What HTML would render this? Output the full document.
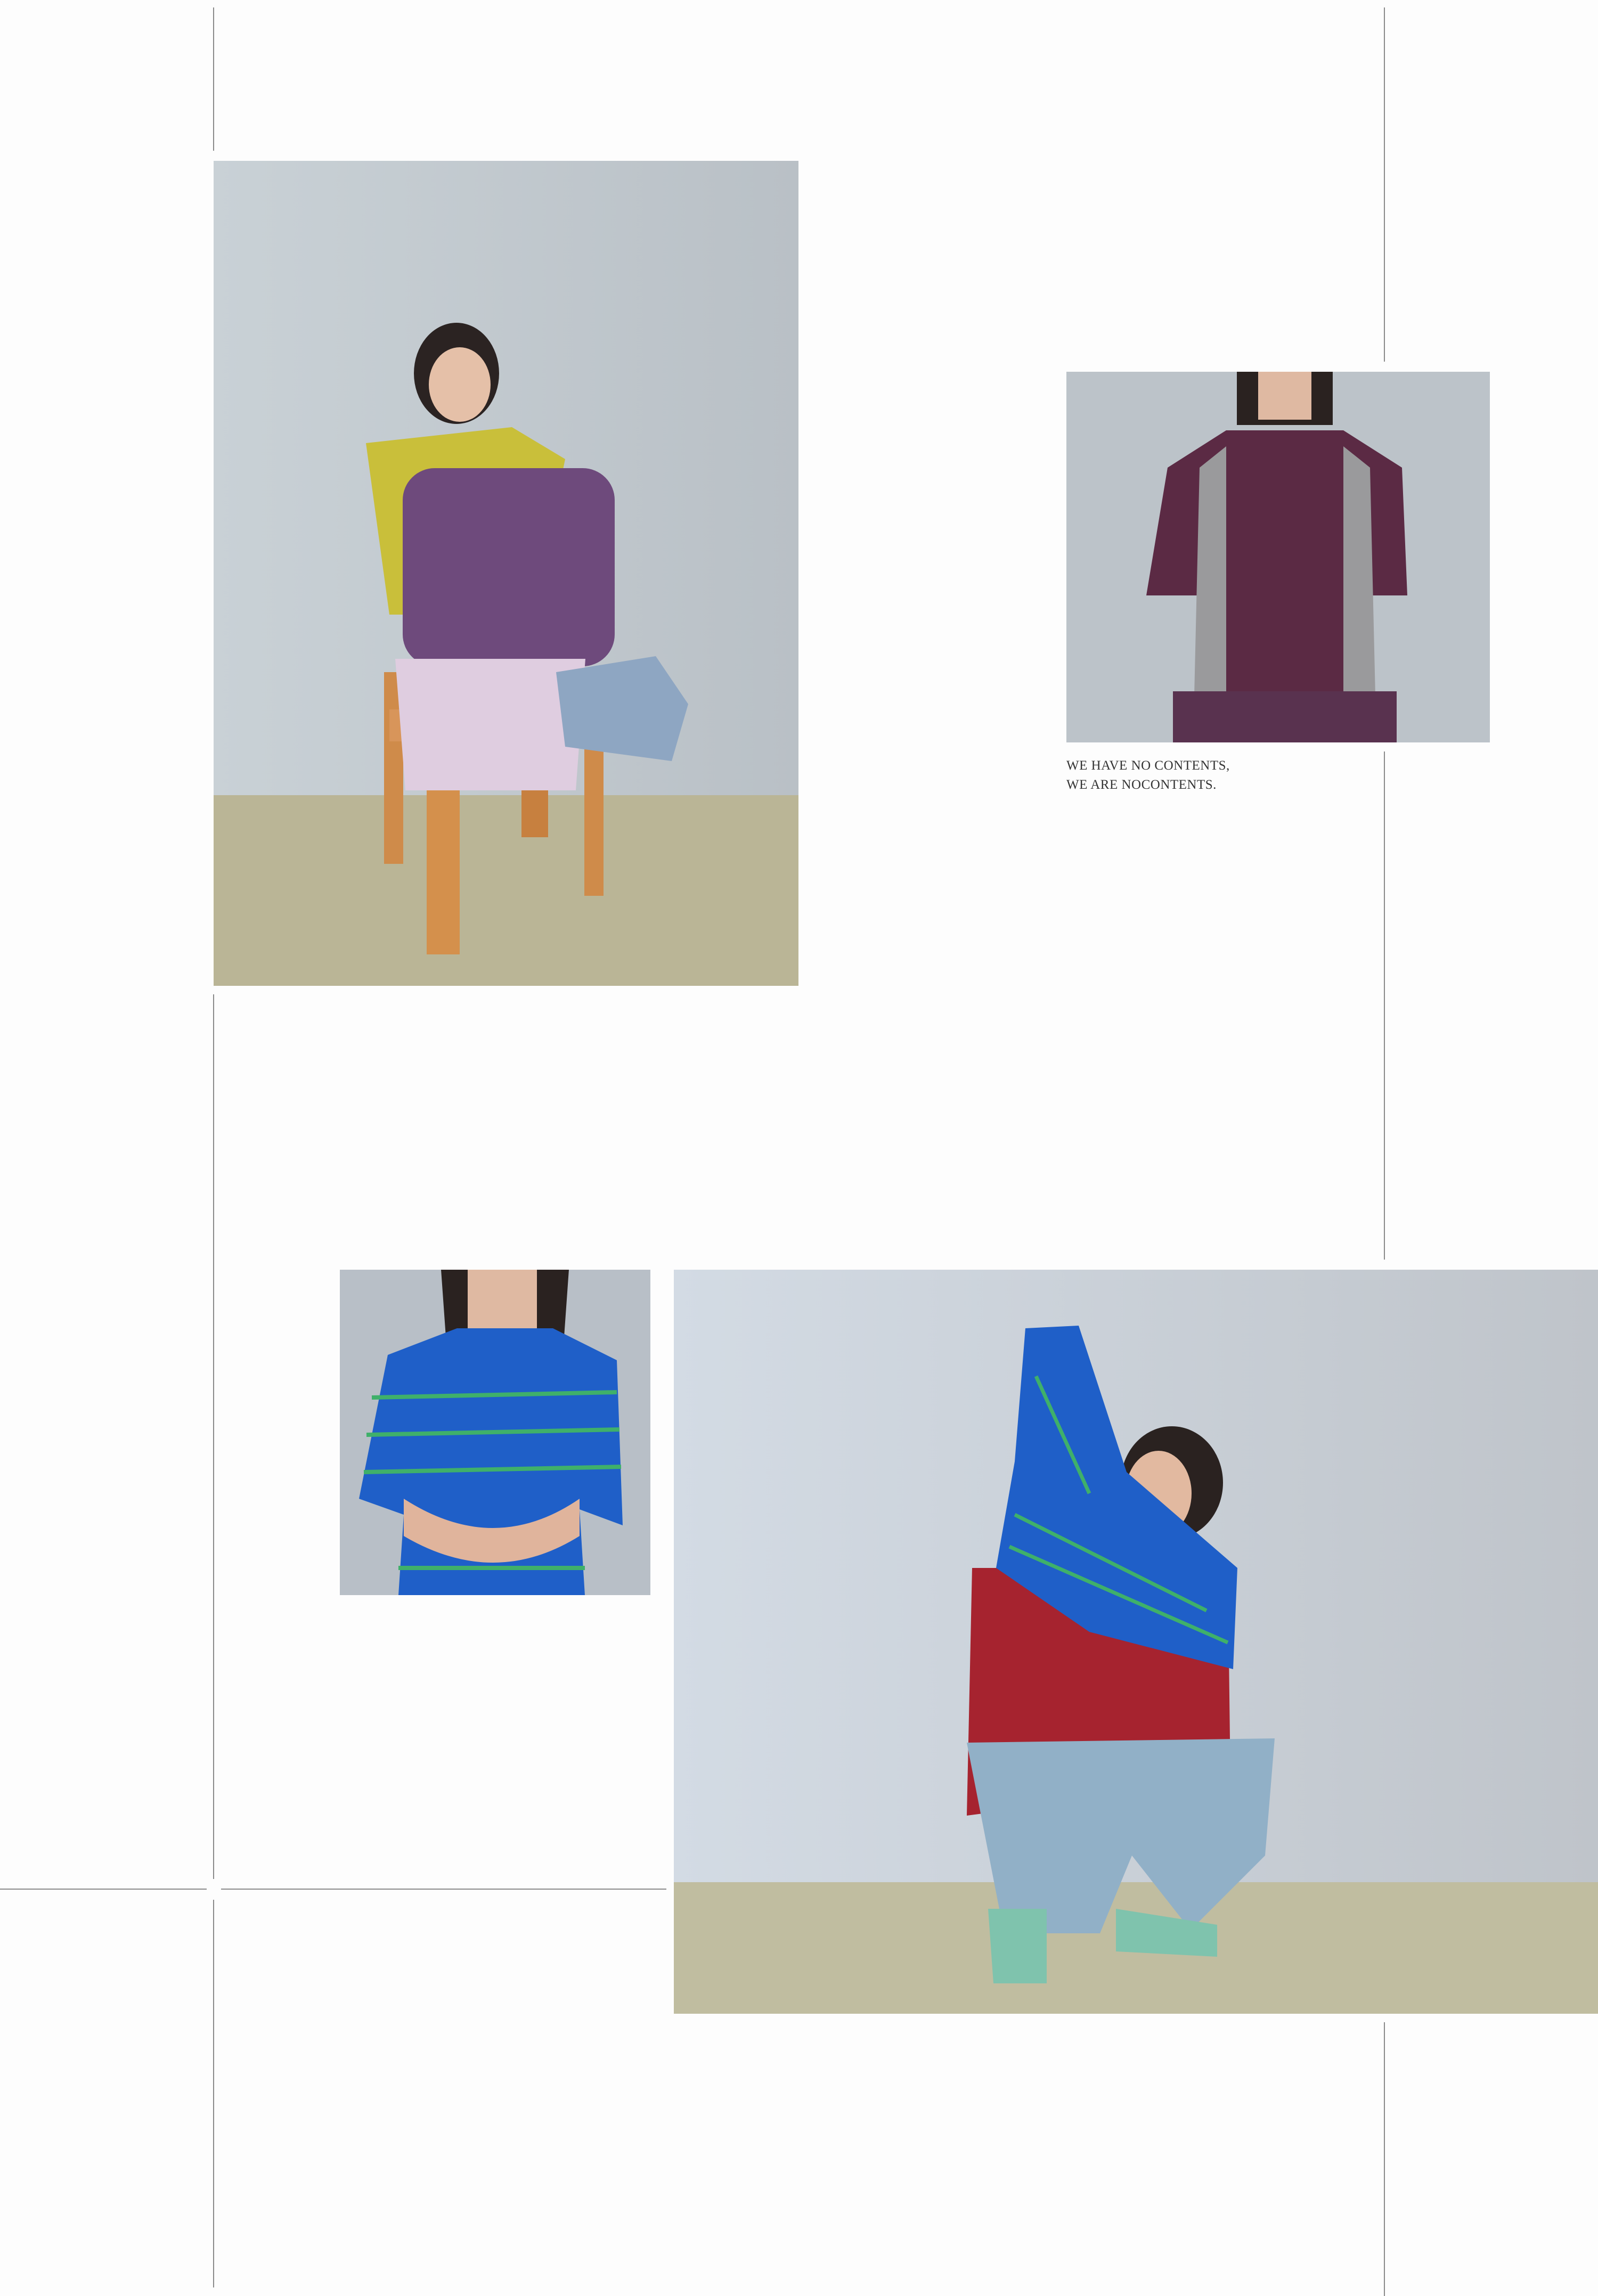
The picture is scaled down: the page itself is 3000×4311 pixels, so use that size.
<!DOCTYPE html>
<html><head><meta charset="utf-8"><style>
html,body{margin:0;padding:0;background:#fdfdfd;}
body{width:3000px;height:4311px;position:relative;overflow:hidden;}
.vl{position:absolute;width:2px;background:#8a8a8a;}
.hl{position:absolute;height:2px;background:#8a8a8a;}
.ph{position:absolute;}
.cap{position:absolute;left:2002px;top:1420px;font-family:"Liberation Serif",serif;font-size:25px;line-height:36px;color:#333;letter-spacing:0.5px;}
</style></head><body>
<div class="vl" style="left:400px;top:14px;height:269px"></div>
<div class="vl" style="left:400px;top:1867px;height:1661px"></div>
<div class="vl" style="left:400px;top:3567px;height:728px"></div>
<div class="vl" style="left:2598px;top:14px;height:665px"></div>
<div class="vl" style="left:2598px;top:1411px;height:954px"></div>
<div class="vl" style="left:2598px;top:3797px;height:514px"></div>
<div class="hl" style="left:0;top:3546px;width:388px"></div>
<div class="hl" style="left:415px;top:3546px;width:836px"></div>

<svg class="ph" style="left:401px;top:302px" width="1098" height="1549" viewBox="0 0 1098 1549">
<defs><linearGradient id="w1" x1="0" y1="0" x2="1" y2="0"><stop offset="0" stop-color="#c9d1d6"/><stop offset="1" stop-color="#b9c0c6"/></linearGradient></defs>
<rect width="1098" height="1191" fill="url(#w1)"/>
<rect y="1191" width="1098" height="358" fill="#bab596"/>
<rect x="320" y="960" width="36" height="360" fill="#cf8b4a"/>
<rect x="400" y="1060" width="62" height="430" fill="#d4904c"/>
<rect x="578" y="1130" width="50" height="140" fill="#c7803f"/>
<rect x="696" y="1050" width="36" height="330" fill="#cf8b4a"/>
<rect x="330" y="1030" width="380" height="60" fill="#d8955a"/>
<ellipse cx="456" cy="399" rx="80" ry="95" fill="#2b2322"/>
<ellipse cx="462" cy="420" rx="58" ry="70" fill="#e5c0a8"/>
<path d="M286 530 L560 500 L660 560 L600 852 L330 852 Z" fill="#c9bf3a"/>
<rect x="355" y="577" width="398" height="372" rx="60" fill="#6e4a7c"/>
<path d="M341 935 L698 935 L680 1182 L360 1182 Z" fill="#dfcde0"/>
<path d="M643 960 L830 930 L891 1020 L860 1127 L660 1100 Z" fill="#8ea6c2"/>
</svg>

<svg class="ph" style="left:2002px;top:698px" width="795" height="696" viewBox="0 0 795 696">
<rect width="795" height="696" fill="#bcc3c9"/>
<rect x="320" y="0" width="180" height="100" fill="#2a2220"/>
<rect x="360" y="0" width="100" height="90" fill="#dfb9a2"/>
<path d="M190 180 L300 110 L520 110 L630 180 L640 420 L560 420 L560 608 L260 608 L260 420 L150 420 Z" fill="#5b2a44"/>
<path d="M250 180 L300 140 L300 608 L240 608 Z" fill="#9a9a9c"/>
<path d="M570 180 L520 140 L520 608 L580 608 Z" fill="#9a9a9c"/>
<rect x="200" y="600" width="420" height="96" fill="#59324f"/>
</svg>
<div class="cap">WE HAVE NO CONTENTS,<br>WE ARE NOCONTENTS.</div>

<svg class="ph" style="left:638px;top:2384px" width="583" height="611" viewBox="0 0 583 611">
<rect width="583" height="611" fill="#b8bfc7"/>
<path d="M190 0 L430 0 L420 140 L200 140 Z" fill="#2a2220"/>
<rect x="240" y="0" width="130" height="110" fill="#dfb9a2"/>
<path d="M90 160 L220 110 L400 110 L520 170 L531 480 L450 450 L460 611 L110 611 L120 460 L36 430 Z" fill="#1f5fc8"/>
<g stroke="#3fb06a" stroke-width="8"><line x1="60" y1="240" x2="520" y2="230"/><line x1="50" y1="310" x2="525" y2="300"/><line x1="45" y1="380" x2="528" y2="370"/><line x1="110" y1="560" x2="460" y2="560"/></g>
<path d="M120 430 Q290 540 450 430 L450 500 Q290 600 120 500 Z" fill="#e0b49c"/>
</svg>

<svg class="ph" style="left:1265px;top:2384px" width="1735" height="1397" viewBox="0 0 1735 1397">
<defs><linearGradient id="w4" x1="0" y1="0" x2="1" y2="0"><stop offset="0" stop-color="#d3dbe4"/><stop offset="1" stop-color="#bfc4ca"/></linearGradient></defs>
<rect width="1735" height="1150" fill="url(#w4)"/>
<rect y="1150" width="1735" height="247" fill="#c0bda0"/>
<path d="M560 560 L1040 560 L1045 960 L550 1025 Z" fill="#a6232f"/>
<path d="M550 888 L1128 880 L1110 1100 L970 1240 L860 1100 L800 1246 L620 1246 Z" fill="#91b0c7"/>
<ellipse cx="935" cy="400" rx="96" ry="106" fill="#2a2220"/>
<ellipse cx="910" cy="420" rx="62" ry="80" fill="#e2b9a0"/>
<path d="M660 110 L760 105 L850 380 L1058 560 L1050 750 L780 680 L605 560 L640 360 Z" fill="#1f5fc8"/>
<g stroke="#3fb06a" stroke-width="7"><line x1="680" y1="200" x2="780" y2="420"/><line x1="640" y1="460" x2="1000" y2="640"/><line x1="630" y1="520" x2="1040" y2="700"/></g>
<path d="M590 1200 L700 1200 L700 1340 L600 1340 Z" fill="#7fc3ad"/>
<path d="M830 1200 L1020 1230 L1020 1290 L830 1280 Z" fill="#7fc3ad"/>
</svg>
</body></html>
